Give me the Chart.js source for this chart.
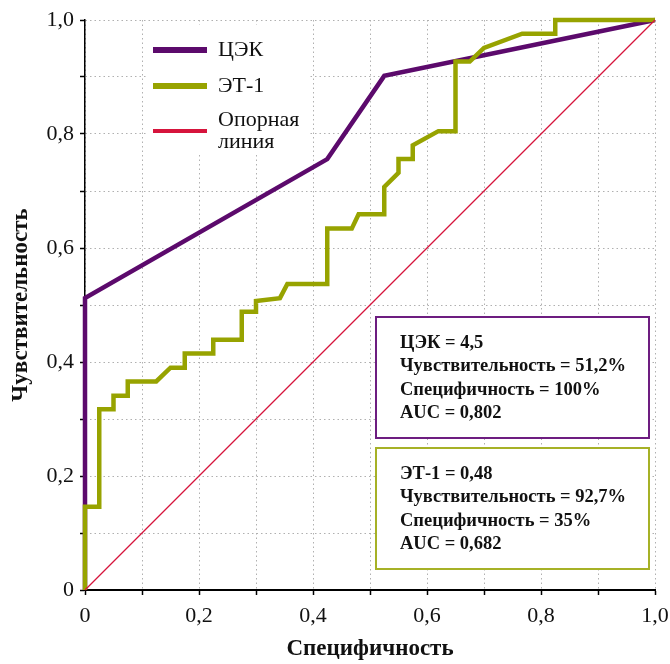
<!DOCTYPE html>
<html>
<head>
<meta charset="utf-8">
<script src="https://cdn.jsdelivr.net/npm/chart.js@4.4.1/dist/chart.umd.min.js"></script>
<style>
  html, body { margin: 0; padding: 0; background: #fff; }
  #wrap { width: 670px; height: 664px; }
</style>
</head>
<body>
<div id="wrap"><canvas id="roc" width="670" height="664"></canvas></div>
<script>
// ROC-кривые: ось X — "специфичность", ось Y — чувствительность
const seriesNames = ['ЦЭК', 'ЭТ-1', ['Опорная', 'линия']];

const cekX = [0, 0, 0.425, 0.525, 1];
const cekY = [0, 0.512, 0.756, 0.902, 1];

const et1X = [0, 0, 0.025, 0.025, 0.05, 0.05, 0.075, 0.075, 0.125, 0.15, 0.175, 0.175, 0.225, 0.225,
  0.275, 0.275, 0.3, 0.3, 0.342, 0.355, 0.425, 0.425, 0.468, 0.48, 0.525, 0.525, 0.55, 0.55,
  0.575, 0.575, 0.62, 0.65, 0.65, 0.675, 0.7, 0.767, 0.825, 0.825, 1];
const et1Y = [0, 0.146, 0.146, 0.317, 0.317, 0.341, 0.341, 0.366, 0.366, 0.39, 0.39, 0.415, 0.415, 0.439,
  0.439, 0.488, 0.488, 0.507, 0.512, 0.537, 0.537, 0.634, 0.634, 0.659, 0.659, 0.707, 0.732, 0.756,
  0.756, 0.78, 0.805, 0.805, 0.927, 0.927, 0.951, 0.976, 0.976, 1, 1];

const refX = [0, 1];
const refY = [0, 1];

const axisMin = 0;
const axisMax = 1;
const tickStep = 0.1;

const cekNotes = ['ЦЭК = 4,5', 'Чувствительность = 51,2%', 'Специфичность = 100%', 'AUC = 0,802'];
const et1Notes = ['ЭТ-1 = 0,48', 'Чувствительность = 92,7%', 'Специфичность = 35%', 'AUC = 0,682'];

const colors = {
  cek: '#5c0a6c',
  et1: '#97a300',
  ref: '#d6143c',
  cekBox: '#6d1d80',
  et1Box: '#a6b126'
};

const serif = "'Liberation Serif', 'Times New Roman', serif";

function toPoints(xs, ys) {
  return xs.map((x, i) => ({ x: x, y: ys[i] }));
}

function tickLabel(v) {
  const k = Math.round(v * 10);
  if (k % 2 !== 0) return '';
  if (k === 0) return '0';
  return (k / 10).toFixed(1).replace('.', ',');
}

// легенда и подписи с пороговыми значениями рисуются поверх сетки
const overlayPlugin = {
  id: 'overlay',
  beforeDatasetsDraw(chart) {
    const ctx = chart.ctx;
    const a = chart.chartArea;
    ctx.save();

    // легенда
    ctx.fillStyle = '#fff';
    ctx.fillRect(a.left + 61, a.top + 5, 164, 130);
    const legend = [
      { color: colors.cek, width: 6, y: 30 },
      { color: colors.et1, width: 6, y: 66 },
      { color: colors.ref, width: 4, y: 111 }
    ];
    ctx.font = '22px ' + serif;
    ctx.textBaseline = 'middle';
    ctx.fillStyle = '#111';
    legend.forEach((item, i) => {
      ctx.strokeStyle = item.color;
      ctx.lineWidth = item.width;
      ctx.beginPath();
      ctx.moveTo(a.left + 68, a.top + item.y);
      ctx.lineTo(a.left + 122, a.top + item.y);
      ctx.stroke();
      const name = seriesNames[i];
      if (Array.isArray(name)) {
        ctx.fillText(name[0], a.left + 133, a.top + item.y - 11);
        ctx.fillText(name[1], a.left + 133, a.top + item.y + 11);
      } else {
        ctx.fillText(name, a.left + 133, a.top + item.y);
      }
    });

    // рамки с результатами
    const boxes = [
      { lines: cekNotes, color: colors.cekBox, top: 297 },
      { lines: et1Notes, color: colors.et1Box, top: 428 }
    ];
    ctx.font = 'bold 18.5px ' + serif;
    boxes.forEach(b => {
      const x = a.left + 291, y = a.top + b.top, w = 273, h = 121;
      ctx.fillStyle = '#fff';
      ctx.fillRect(x, y, w, h);
      ctx.strokeStyle = b.color;
      ctx.lineWidth = 2;
      ctx.strokeRect(x, y, w, h);
      ctx.fillStyle = '#111';
      b.lines.forEach((t, i) => {
        ctx.fillText(t, x + 24, y + 26 + i * 23.5);
      });
    });
    ctx.restore();
  }
};

const gridCommon = {
  color: '#b0b0b0',
  lineWidth: 1,
  tickColor: '#000',
  tickLength: 5,
  tickWidth: 1.5
};

new Chart(document.getElementById('roc'), {
  type: 'scatter',
  data: {
    datasets: [
      {
        label: 'Опорная линия',
        data: toPoints(refX, refY),
        showLine: true,
        borderColor: colors.ref,
        borderWidth: 1.2,
        pointRadius: 0,
        order: 0,
        clip: 6
      },
      {
        label: 'ЭТ-1',
        data: toPoints(et1X, et1Y),
        showLine: true,
        borderColor: colors.et1,
        borderWidth: 4.5,
        borderJoinStyle: 'miter',
        pointRadius: 0,
        order: 1,
        clip: 6
      },
      {
        label: 'ЦЭК',
        data: toPoints(cekX, cekY),
        showLine: true,
        borderColor: colors.cek,
        borderWidth: 4.5,
        borderJoinStyle: 'miter',
        pointRadius: 0,
        order: 2,
        clip: 6
      }
    ]
  },
  options: {
    responsive: false,
    animation: false,
    devicePixelRatio: 1,
    layout: { padding: { top: 20, right: 15, bottom: 0, left: 0 } },
    plugins: {
      legend: { display: false },
      tooltip: { enabled: false }
    },
    scales: {
      x: {
        type: 'linear',
        min: axisMin,
        max: axisMax,
        afterFit(scale) {
          scale.height = 74;
          scale.paddingLeft = 0;
          scale.paddingRight = 0;
        },
        grid: gridCommon,
        border: { display: true, color: '#000', width: 2, dash: [1.5, 3] },
        ticks: {
          stepSize: tickStep,
          autoSkip: false,
          maxRotation: 0,
          padding: 8,
          color: '#111',
          font: { family: serif, size: 22 },
          callback: tickLabel
        },
        title: {
          display: true,
          text: 'Специфичность',
          color: '#111',
          font: { family: serif, size: 23, weight: 'bold' },
          padding: { top: 0, bottom: 1 }
        }
      },
      y: {
        type: 'linear',
        min: axisMin,
        max: axisMax,
        afterFit(scale) {
          scale.width = 85;
          scale.paddingTop = 0;
          scale.paddingBottom = 0;
        },
        grid: gridCommon,
        border: { display: true, color: '#000', width: 1.5, dash: [1.5, 3] },
        ticks: {
          stepSize: tickStep,
          autoSkip: false,
          padding: 6,
          color: '#111',
          font: { family: serif, size: 22 },
          callback: tickLabel
        },
        title: {
          display: true,
          text: 'Чувствительность',
          color: '#111',
          font: { family: serif, size: 23, weight: 'bold' },
          padding: { top: 7, bottom: 0 }
        }
      }
    }
  },
  plugins: [overlayPlugin]
});
</script>
</body>
</html>
